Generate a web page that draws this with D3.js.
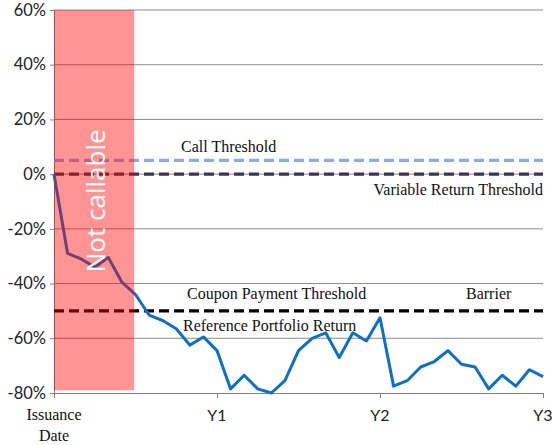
<!DOCTYPE html>
<html>
<head>
<meta charset="utf-8">
<script src="https://cdn.jsdelivr.net/npm/d3@7"></script>
<style>
  body { margin: 0; background: #fff; }
  svg { display: block; }
</style>
</head>
<body>
<div id="chart"></div>
<script>
// monthly points, issuance (0) to year 3 (36)
var months = d3.range(0, 37);
var portfolioReturn = [0, -29, -31, -34, -30.5, -39.5, -44, -51.5, -53.5, -56.5, -62.5, -59.5,
  -64.5, -78.5, -73.5, -78.5, -80, -75.5, -64.5, -60, -58, -67, -58, -61,
  -52.5, -77.5, -75.5, -70.5, -68.5, -64.5, -69.5, -70.5, -78.5, -73.5, -77.5, -71.5, -74];

var xTickMonths = [0, 12, 24, 36];
var xTickLabels = ["Issuance\nDate", "Y1", "Y2", "Y3"];
var yTicks = [-80, -60, -40, -20, 0, 20, 40, 60];

var thresholdNames = ["Call Threshold", "Variable Return Threshold", "Coupon Payment Threshold"];
var thresholdValues = [5, 0, -50];
var thresholdColors = ["#8faadc", "#3f3158", "#000000"];

var notCallableEnd = 5.9; // months

var width = 552,
    height = 445,
    margin = {top: 10, right: 9, bottom: 52, left: 54};

var svg = d3.select("#chart")
    .append("svg")
    .attr("width", width)
    .attr("height", height);

var x = d3.scaleLinear().domain([0, 36]).range([margin.left, width - margin.right]);
var y = d3.scaleLinear().domain([-80, 60]).range([height - margin.bottom, margin.top]);

// gridlines
svg.append("g")
    .selectAll("line")
    .data(yTicks.filter(function(d) { return d > -80; }))
    .enter()
    .append("line")
    .attr("x1", x(0))
    .attr("x2", x(36))
    .attr("y1", function(d) { return y(d); })
    .attr("y2", function(d) { return y(d); })
    .attr("stroke", "#8c8c8c")
    .attr("stroke-width", 1);

// y axis
var yAxis = svg.append("g")
    .attr("transform", "translate(" + x(0) + ",0)")
    .call(d3.axisLeft(y).tickValues(yTicks).tickSize(4).tickPadding(4)
        .tickFormat(function(d) { return d + "%"; }));
yAxis.selectAll("path, line").attr("stroke", "#808080");
yAxis.selectAll("text")
    .attr("font-family", "Lato, 'Open Sans', sans-serif")
    .attr("font-size", "16.5px")
    .attr("fill", "#222");

// x axis
var xAxis = svg.append("g")
    .attr("transform", "translate(0," + y(-80) + ")")
    .call(d3.axisBottom(x).tickValues(xTickMonths).tickSize(5).tickFormat(""));
xAxis.selectAll("path, line").attr("stroke", "#808080");

xTickMonths.forEach(function(m, i) {
  var lines = xTickLabels[i].split("\n");
  if (lines.length > 1) {
    svg.append("text")
        .attr("x", x(m))
        .attr("y", 420)
        .attr("text-anchor", "middle")
        .attr("font-family", "'Liberation Serif', serif")
        .attr("font-size", "16px")
        .attr("fill", "#111")
        .selectAll("tspan")
        .data(lines)
        .enter()
        .append("tspan")
        .attr("x", x(m))
        .attr("dy", function(d, j) { return j === 0 ? 0 : 21; })
        .text(function(d) { return d; });
  } else {
    svg.append("text")
        .attr("x", x(m))
        .attr("y", 421)
        .attr("text-anchor", "middle")
        .attr("font-family", "Lato, 'Open Sans', sans-serif")
        .attr("font-size", "16px")
        .attr("fill", "#222")
        .text(lines[0]);
  }
});

// threshold lines
thresholdValues.forEach(function(v, i) {
  svg.append("line")
      .attr("x1", x(0))
      .attr("x2", x(36))
      .attr("y1", y(v))
      .attr("y2", y(v))
      .attr("stroke", thresholdColors[i])
      .attr("stroke-width", 3.2)
      .attr("stroke-dasharray", "10,5");
});

// reference portfolio return line
var line = d3.line()
    .x(function(d, i) { return x(months[i]); })
    .y(function(d) { return y(d); });

svg.append("path")
    .datum(portfolioReturn)
    .attr("d", line)
    .attr("fill", "none")
    .attr("stroke", "#0f6fc6")
    .attr("stroke-width", 3)
    .attr("stroke-linejoin", "round");

// not callable region (semi-transparent over everything)
svg.append("rect")
    .attr("x", x(0))
    .attr("y", y(60))
    .attr("width", x(notCallableEnd) - x(0))
    .attr("height", y(-79) - y(60))
    .attr("fill", "#ff0000")
    .attr("fill-opacity", 0.42);

svg.append("text")
    .attr("transform", "translate(" + (x(notCallableEnd / 2) + 11) + "," + (y(-5) + 13) + ") rotate(-90)")
    .attr("text-anchor", "middle")
    .attr("font-family", "'Open Sans', Lato, sans-serif")
    .attr("font-size", "26px")
    .attr("fill", "#ffffff")
    .text("Not callable");

// annotations
var labelFont = "'Liberation Serif', serif";
var notes = [
  {text: thresholdNames[0], x: 181, y: 152, anchor: "start"},
  {text: thresholdNames[1], x: 543, y: 195, anchor: "end"},
  {text: thresholdNames[2], x: 187, y: 299, anchor: "start"},
  {text: "Barrier", x: 466, y: 299, anchor: "start"},
  {text: "Reference Portfolio Return", x: 183, y: 331, anchor: "start"}
];
svg.selectAll(".note")
    .data(notes)
    .enter()
    .append("text")
    .attr("class", "note")
    .attr("x", function(d) { return d.x; })
    .attr("y", function(d) { return d.y; })
    .attr("text-anchor", function(d) { return d.anchor; })
    .attr("font-family", labelFont)
    .attr("font-size", "16px")
    .attr("fill", "#111")
    .text(function(d) { return d.text; });
</script>
</body>
</html>
